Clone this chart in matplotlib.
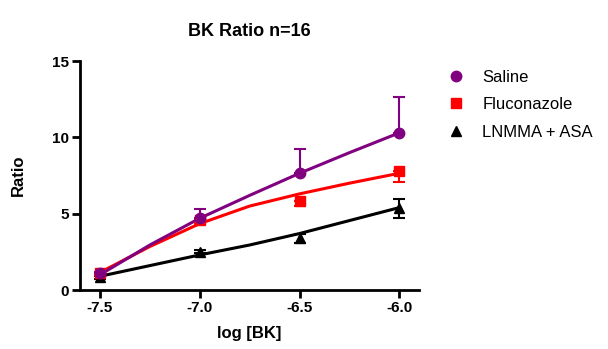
import numpy as np
import matplotlib
matplotlib.use("Agg")
import matplotlib.pyplot as plt

plt.rcParams['font.family'] = ['Liberation Sans', 'DejaVu Sans']

# dose points
log_bk = [-7.5, -7.0, -6.5, -6.0]

# means and errors
saline = [1.1, 4.7, 7.65, 10.3]
saline_err = [0.1, 0.6, 1.57, 2.36]          # drawn above only
fluco = [1.1, 4.6, 5.85, 7.8]
fluco_err = [0.1, 0.25, 0.35, 0.7]          # drawn below only
lnmma = [0.85, 2.5, 3.4, 5.35]
lnmma_err = [0.1, 0.1, 0.3, 0.6]

# fitted curves
fit_x = [-7.5, -7.25, -7.0, -6.75, -6.5, -6.25, -6.0]
fit_saline = [1.0, 2.95, 4.7, 6.2, 7.65, 9.0, 10.3]
fit_fluco = [1.15, 2.85, 4.35, 5.5, 6.3, 7.0, 7.65]
fit_lnmma = [0.9, 1.6, 2.3, 2.95, 3.7, 4.55, 5.4]

fig = plt.figure(figsize=(6.08, 3.49), dpi=100)
ax = fig.add_axes([0.1316, 0.169, 0.558, 0.656])

# fits
ax.plot(fit_x, fit_lnmma, color='black', lw=2.2, zorder=2)
ax.plot(fit_x, fit_fluco, color='#ff0000', lw=2.2, zorder=3)
ax.plot(fit_x, fit_saline, color='#800080', lw=2.2, zorder=4)

# error bars
zeros = [0] * 4
ax.errorbar(log_bk, lnmma, yerr=lnmma_err, fmt='none', ecolor='black',
            elinewidth=1.5, capsize=4, capthick=1.5, zorder=2)
ax.errorbar(log_bk, fluco, yerr=[fluco_err, zeros], fmt='none', ecolor='#ff0000',
            elinewidth=1.5, capsize=4, capthick=1.5, zorder=3)
ax.errorbar(log_bk, saline, yerr=[zeros, saline_err], fmt='none', ecolor='#800080',
            elinewidth=1.5, capsize=4, capthick=1.5, zorder=4)

# points
ax.plot(log_bk, lnmma, '^', color='black', ms=6.5, ls='none', label='LNMMA + ASA', zorder=5)
ax.plot(log_bk, fluco, 's', color='#ff0000', ms=7, ls='none', label='Fluconazole', zorder=5)
ax.plot(log_bk, saline, 'o', color='#800080', ms=7.5, ls='none', label='Saline', zorder=6)

ax.set_xlim(-7.6, -5.9)
ax.set_ylim(0, 15)
ax.set_xticks([-7.5, -7.0, -6.5, -6.0])
ax.set_xticklabels(['-7.5', '-7.0', '-6.5', '-6.0'])
ax.set_yticks([0, 5, 10, 15])

for s in ['top', 'right']:
    ax.spines[s].set_visible(False)
for s in ['left', 'bottom']:
    ax.spines[s].set_linewidth(2)
ax.tick_params(direction='out', width=2, length=6, labelsize=11, pad=2)
for lab in ax.get_xticklabels() + ax.get_yticklabels():
    lab.set_fontweight('bold')

ax.set_xlabel('log [BK]', fontsize=12, fontweight='bold', labelpad=8)
ax.set_ylabel('Ratio', fontsize=12, fontweight='bold', labelpad=19)
ax.set_title('BK Ratio n=16', fontsize=13, fontweight='bold', pad=18)

h, l = ax.get_legend_handles_labels()
order = [2, 1, 0]
fig.legend([h[i] for i in order], [l[i] for i in order], loc='upper left',
           bbox_to_anchor=(0.704, 0.843), frameon=False, fontsize=12,
           handletextpad=0.85, labelspacing=0.75, handlelength=1.5)

fig.savefig('out.png', dpi=100)
